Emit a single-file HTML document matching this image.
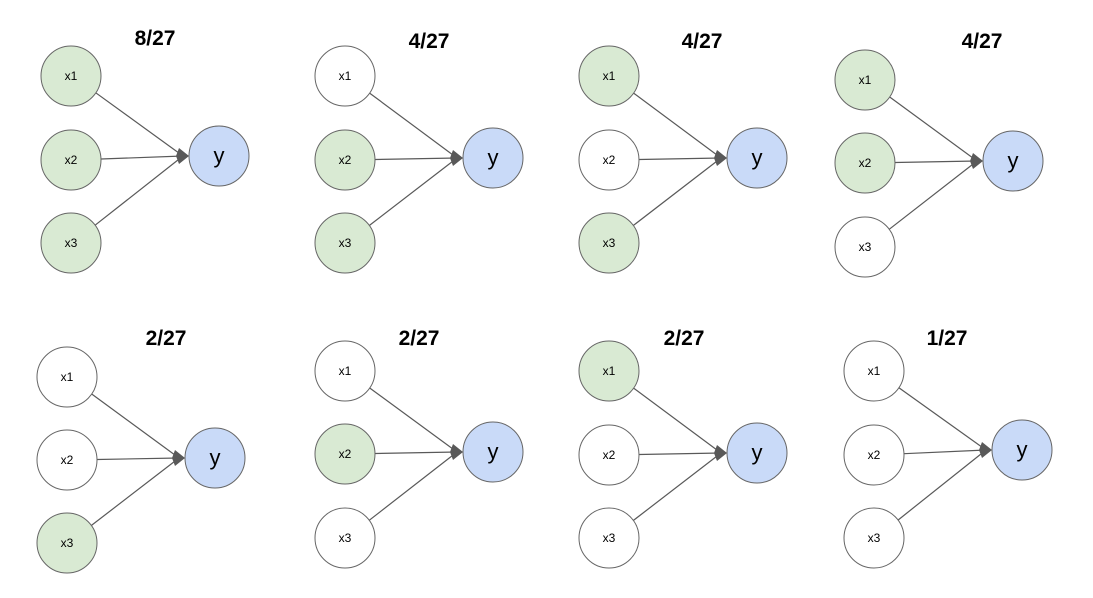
<!DOCTYPE html>
<html><head><meta charset="utf-8"><style>
html,body{margin:0;padding:0;background:#fff;}
svg{display:block;font-family:"Liberation Sans",Arial,sans-serif;}
.t{font-weight:bold;font-size:21px;text-anchor:middle;}
.n{font-size:12px;text-anchor:middle;}
.y{font-size:22px;text-anchor:middle;}
circle{stroke:#666;stroke-width:1;}
line{stroke:#595959;stroke-width:1.2;}
</style></head><body>
<svg id="s" width="1093" height="598" viewBox="0 0 1093 598">
<g id="lines"></g>
<!-- P1 -->
<text class="t" x="155" y="45">8/27</text>
<circle cx="71" cy="76" r="30" fill="#d9ead3"/><text class="n" x="71" y="80">x1</text>
<circle cx="71" cy="160" r="30" fill="#d9ead3"/><text class="n" x="71" y="164">x2</text>
<circle cx="71" cy="243" r="30" fill="#d9ead3"/><text class="n" x="71" y="247">x3</text>
<circle cx="219" cy="156" r="30" fill="#c9daf8"/><text class="y" x="219" y="163">y</text>
<!-- P2 -->
<text class="t" x="429" y="48">4/27</text>
<circle cx="345" cy="76" r="30" fill="#fff"/><text class="n" x="345" y="80">x1</text>
<circle cx="345" cy="160" r="30" fill="#d9ead3"/><text class="n" x="345" y="164">x2</text>
<circle cx="345" cy="243" r="30" fill="#d9ead3"/><text class="n" x="345" y="247">x3</text>
<circle cx="493" cy="158" r="30" fill="#c9daf8"/><text class="y" x="493" y="165">y</text>
<!-- P3 -->
<text class="t" x="702" y="48">4/27</text>
<circle cx="609" cy="76" r="30" fill="#d9ead3"/><text class="n" x="609" y="80">x1</text>
<circle cx="609" cy="160" r="30" fill="#fff"/><text class="n" x="609" y="164">x2</text>
<circle cx="609" cy="243" r="30" fill="#d9ead3"/><text class="n" x="609" y="247">x3</text>
<circle cx="757" cy="158" r="30" fill="#c9daf8"/><text class="y" x="757" y="165">y</text>
<!-- P4 -->
<text class="t" x="982" y="48">4/27</text>
<circle cx="865" cy="80" r="30" fill="#d9ead3"/><text class="n" x="865" y="84">x1</text>
<circle cx="865" cy="163" r="30" fill="#d9ead3"/><text class="n" x="865" y="167">x2</text>
<circle cx="865" cy="247" r="30" fill="#fff"/><text class="n" x="865" y="251">x3</text>
<circle cx="1013" cy="161" r="30" fill="#c9daf8"/><text class="y" x="1013" y="168">y</text>
<!-- P5 -->
<text class="t" x="166" y="345">2/27</text>
<circle cx="67" cy="377" r="30" fill="#fff"/><text class="n" x="67" y="381">x1</text>
<circle cx="67" cy="460" r="30" fill="#fff"/><text class="n" x="67" y="464">x2</text>
<circle cx="67" cy="543" r="30" fill="#d9ead3"/><text class="n" x="67" y="547">x3</text>
<circle cx="215" cy="458" r="30" fill="#c9daf8"/><text class="y" x="215" y="465">y</text>
<!-- P6 -->
<text class="t" x="419" y="345">2/27</text>
<circle cx="345" cy="371" r="30" fill="#fff"/><text class="n" x="345" y="375">x1</text>
<circle cx="345" cy="454" r="30" fill="#d9ead3"/><text class="n" x="345" y="458">x2</text>
<circle cx="345" cy="538" r="30" fill="#fff"/><text class="n" x="345" y="542">x3</text>
<circle cx="493" cy="452" r="30" fill="#c9daf8"/><text class="y" x="493" y="459">y</text>
<!-- P7 -->
<text class="t" x="684" y="345">2/27</text>
<circle cx="609" cy="371" r="30" fill="#d9ead3"/><text class="n" x="609" y="375">x1</text>
<circle cx="609" cy="455" r="30" fill="#fff"/><text class="n" x="609" y="459">x2</text>
<circle cx="609" cy="538" r="30" fill="#fff"/><text class="n" x="609" y="542">x3</text>
<circle cx="757" cy="453" r="30" fill="#c9daf8"/><text class="y" x="757" y="460">y</text>
<!-- P8 -->
<text class="t" x="947" y="345">1/27</text>
<circle cx="874" cy="371" r="30" fill="#fff"/><text class="n" x="874" y="375">x1</text>
<circle cx="874" cy="455" r="30" fill="#fff"/><text class="n" x="874" y="459">x2</text>
<circle cx="874" cy="538" r="30" fill="#fff"/><text class="n" x="874" y="542">x3</text>
<circle cx="1022" cy="450" r="30" fill="#c9daf8"/><text class="y" x="1022" y="457">y</text>
</svg>
<script>
var P=[[71,219,[76,160,243],156],[345,493,[76,160,243],158],[609,757,[76,160,243],158],[865,1013,[80,163,247],161],
[67,215,[377,460,543],458],[345,493,[371,454,538],452],[609,757,[371,455,538],453],[874,1022,[371,455,538],450]];
var g=document.getElementById('lines'),h='';
P.forEach(function(p){var tx=p[1]-30,ty=p[3];
p[2].forEach(function(cy){var dx=tx-p[0],dy=ty-cy,d=Math.hypot(dx,dy);
var sx=p[0]+dx/d*30,sy=cy+dy/d*30;
h+='<line x1="'+sx.toFixed(1)+'" y1="'+sy.toFixed(1)+'" x2="'+(tx-6)+'" y2="'+ty+'"/>';});
h+='<polygon points="'+tx+','+ty+' '+(tx-10)+','+(ty-8)+' '+(tx-13)+','+ty+' '+(tx-10)+','+(ty+8)+'" fill="#595959"/>';});
g.innerHTML=h;
</script>
</body></html>
